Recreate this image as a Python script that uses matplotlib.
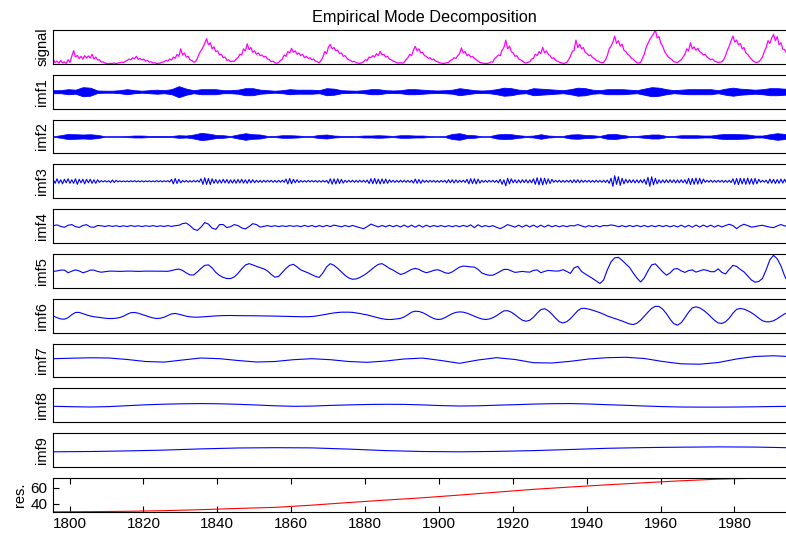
import numpy as np
import matplotlib
matplotlib.use('Agg')
import matplotlib.pyplot as plt

plt.rcParams['font.family'] = ['Liberation Sans', 'DejaVu Sans']

# time axis (years)
t_start = 1795.6
t_end = 1996.6

# signal, sampled every half year (sunspot-like numbers)
signal = [
    30, 8, 20, 5, 25, 6, 15, 3, 30, 10, 55, 97, 50, 62, 38, 55, 35, 60, 42, 58,
    42, 70, 35, 50, 28, 30, 12, 15, 5, 3, 0, 4, 2, 6, 1, 5, 8, 12, 10, 18,
    25, 35, 30, 45, 38, 55, 32, 40, 28, 35, 20, 25, 12, 15, 5, 8, 2, 4, 6, 12,
    15, 25, 20, 35, 28, 50, 40, 70, 55, 110, 65, 80, 50, 55, 30, 25, 12, 15, 40, 75,
    97, 120, 150, 185, 140, 155, 110, 125, 90, 95, 65, 70, 45, 50, 25, 30, 15, 20, 18, 35,
    45, 70, 65, 110, 95, 147, 105, 120, 85, 95, 70, 80, 60, 65, 50, 55, 35, 30, 15, 20,
    8, 4, 10, 25, 35, 65, 55, 90, 80, 114, 85, 95, 70, 80, 60, 70, 45, 55, 40, 45,
    30, 35, 20, 15, 8, 25, 50, 90, 75, 125, 142, 110, 120, 95, 100, 75, 80, 55, 60, 40,
    30, 25, 15, 18, 8, 5, 3, 8, 15, 30, 25, 50, 45, 60, 50, 75, 60, 92, 65, 70,
    50, 55, 35, 30, 20, 15, 8, 5, 8, 4, 12, 30, 45, 70, 60, 100, 129, 95, 110, 80,
    85, 60, 55, 40, 45, 30, 35, 20, 15, 10, 5, 3, 4, 8, 10, 25, 30, 45, 40, 60,
    75, 117, 80, 90, 60, 70, 50, 55, 40, 30, 20, 10, 6, 4, 2, 3, 6, 15, 12, 40,
    50, 65, 60, 100, 120, 174, 110, 130, 90, 80, 55, 60, 35, 30, 20, 10, 5, 12, 15, 35,
    40, 70, 60, 90, 75, 122, 80, 95, 70, 60, 40, 45, 25, 20, 12, 8, 3, 5, 10, 30,
    55, 90, 100, 174, 120, 145, 110, 120, 85, 75, 60, 65, 45, 40, 25, 20, 12, 8, 10, 30,
    60, 110, 130, 160, 204, 150, 170, 130, 145, 100, 90, 70, 60, 40, 35, 20, 8, 5, 10, 40,
    70, 120, 150, 180, 200, 220, 249, 190, 200, 150, 130, 90, 70, 50, 40, 30, 15, 12, 10, 20,
    30, 50, 70, 110, 95, 155, 110, 125, 100, 115, 90, 80, 65, 70, 50, 40, 30, 35, 20, 15,
    10, 12, 15, 30, 60, 100, 130, 170, 204, 160, 175, 140, 150, 110, 120, 80, 70, 50, 35, 20,
    12, 10, 15, 30, 50, 90, 120, 170, 150, 190, 217, 170, 200, 140, 155, 110, 105, 80, 60, 40,
    25, 15, 10,
]

# imf1 and imf2: half-width of the dense oscillation band, every 2 years
imf1_env = [
    1.5, 1.5, 2.5, 2, 4.5, 4, 1.2, 1, 1, 1.5,
    2.5, 1.5, 1, 1.5, 2, 1.5, 2.5, 5.5, 3, 1.5,
    2.5, 2.5, 2.5, 1.5, 1.5, 2, 3.5, 3.5, 2, 1.5,
    1, 1.5, 2.5, 2, 2, 2, 1.5, 3.5, 3, 1.5,
    1.2, 1, 1.5, 2.5, 2.5, 1.5, 1.2, 1.5, 2.5, 2.5,
    2, 1.5, 1.2, 1.5, 2, 3.5, 2.5, 1.5, 1.2, 1.5,
    2.5, 4, 3.5, 2, 1.5, 3.5, 3, 2.5, 2, 1.5,
    2.5, 4, 3.5, 2, 1.5, 2.5, 2.5, 2.5, 2, 1.5,
    3, 4.5, 4, 2.5, 1.5, 2, 2.5, 2.5, 2.5, 2.5,
    1.5, 3, 4, 3, 2.5, 2, 2.5, 3.5, 3.5, 3, 3,
]

imf2_env = [
    0.3, 1.3, 2.6, 2.3, 2, 2.3, 1.6, 0.3, 0.3, 0.3,
    0.6, 1, 1, 0.6, 0.6, 0.6, 0.6, 1.3, 1, 2,
    3.6, 2.9, 1.6, 1.3, 0.5, 2, 3.3, 2.3, 2, 0.6,
    0.6, 1.3, 1.3, 1, 0.5, 0.5, 1.6, 2, 1, 0.6,
    0.6, 0.5, 1, 1, 1.3, 1, 0.6, 1.3, 1.3, 1,
    1, 0.5, 0.3, 0.5, 2.6, 3.3, 1.6, 1.3, 0.3, 0.3,
    2, 2.6, 2.3, 1.3, 0.6, 1, 2.3, 1, 0.6, 0.6,
    2, 2.3, 1.6, 1.3, 0.6, 2.3, 2.6, 1.6, 0.6, 0.6,
    1.3, 2, 2, 0.6, 0.6, 1.3, 1.3, 1.3, 1, 1,
    2, 2.6, 2.6, 2.3, 2, 1, 1, 2.3, 3.3, 2.6, 1.6,
]

# imf3, every half year
imf3 = [
    1.5, -2, 2.5, -2, 1.5, -2.5, 2, -1.5, 2.5, -2, 1.5, -2, 2.5, -3, 2, -1.5, 2, -2.5, 2, -1.5,
    2, -2, 1.5, -2, 1.5, -1, 0.7, -0.6, 0.7, -0.7, 0.6, -1.2, 1.3, -1.2, 1, -0.6, 0.5, -0.6, 0.5, -0.6,
    0.5, -0.6, 0.6, -0.5, 0.7, -0.6, 0.5, -0.6, 0.6, -0.7, 0.5, -0.5, 0.6, -0.6, 0.5, -0.6, 0.7, -0.5, 0.6, -0.6,
    0.6, -0.5, 0.7, -0.8, 2, -2.5, 2.8, -2.2, 2, -1.5, 0.8, -0.7, 0.8, -0.9, 0.7, -0.8, 0.8, -0.7, 0.9, -0.8,
    2.5, -3, 3.5, -3, 2.8, -3.2, 2.5, -2, 1.8, -2, 1.5, -1.8, 2, -1.6, 1.8, -2, 1.5, -1.8, 1.6, -1.9,
    1.8, -1.6, 2, -1.8, 1.5, -2, 1.8, -1.5, 1.6, -1.4, 1, -1, 0.9, -1.1, 1, -0.9, 1, -0.8, 1, -1,
    0.9, -1, 1, -0.9, 1.1, -1, 2.2, -2.6, 2.8, -2.4, 2, -1.5, 1.6, -1.2, 0.8, -0.8, 0.7, -0.8, 0.9, -0.7,
    0.8, -0.7, 0.8, -0.9, 0.7, -0.8, 0.8, -0.7, 0.9, -2, 2.5, -2.8, 2.4, -2.6, 2.5, -2.2, 2, -1.8, 1, -1,
    1, -0.9, 1.1, -1, 0.9, -1, 1.1, -0.9, 1, -1, 1.2, -2.2, 2.6, -2.4, 2.8, -2.5, 2.2, -2.6, 2.4, -2.2,
    2.2, -2, 1.5, -1, 1, -1.1, 0.9, -1, 1.1, -0.9, 1, -1, 0.9, -1.1, 1, -1.8, 2.2, -2, 1.8, -2,
    1.2, -1, 0.9, -1, 1, -0.8, 0.9, -1, 0.8, -1, 0.9, -0.8, 1, -1.5, 1.6, -1.4, 1.5, -1.6, 1.4, -1.2,
    1, -0.9, 1.1, -1.2, 2, -2.5, 2.6, -2.3, 2.5, -2.6, 2.2, -1.8, 1, -1, 0.9, -1, 1, -0.8, 1, -1,
    1, -1.5, 2, -3, 1.5, -4.5, 3, -2.5, 2.5, -1.5, 1.5, -1.6, 1.4, -1.5, 1.6, -1.3, 1.5, -1.6, 1.4, -1.5,
    2.5, -3, 3.5, -3.5, 3.2, -3.6, 3, -2.8, 2.5, -2.2, 2, -1, 1, -0.9, 1.1, -1, 0.9, -1, 1, -0.9,
    1.2, -1.4, 1.5, -1.3, 1.5, -1.4, 1.2, -1, 1, -0.9, 1, -1, 0.9, -1, 1.1, -1, 0.9, -1, 1, -1.2,
    1.2, -2, 3, -5, 5.5, -3, 4.5, -4, 3, -2.5, 2, -1.5, 1.6, -1.4, 1.5, -1.6, 1.4, -1.5, 1.5, -1.5,
    2, -3, 4, -5, 4.5, -3.5, 3, -2.5, 1.5, -1.6, 1.4, -1.5, 1.6, -1.4, 1.5, -1.3, 1.5, -1.6, 1.4, -1.5,
    1.5, -1.4, 1.6, -2.5, 3, -3.2, 2.8, -3, 3.2, -2.8, 3, -2.5, 2.2, -1, 1, -0.9, 1.1, -1, 0.9, -1,
    1, -0.9, 1, -1.1, 0.9, -1, 1, -1.2, 2.5, -3, 2.8, -3.2, 3, -2.6, 2.8, -3, 3.2, -2.8, 2.6, -3,
    2.8, -2.5, 2, -1, 1, -0.9, 1.1, -2, 2.2, -1.8, 2, -2.2, 1.8, -2, 2.2, -1.8, 2, -1.5, 1.6, -1.4,
    1.5, -1.4, 1.2,
]

# imf4, every year
imf4 = [
    0.5, 1.2, -0.3, -1.2, 0.8, 1.5, -0.5, -1.3, 0.6, 1.4,
    -0.8, -1.2, 0.6, 0.3, -0.4, 0.5, -0.3, 0.4, -0.5, 0.3,
    -0.4, 0.5, -0.3, 0.4, -0.5, 0.4, -0.3, 0.5, -0.4, 0.3,
    -0.4, 0.5, -0.3, 0.4, 0.8, 2.5, 3, 0.5, -3, -4.3,
    -1, 3.5, 2, -2, -3.3, 1.5, 1.5, -1.5, -0.5, 1.5,
    0.5, -1.8, -2.8, -0.5, 2.4, 1.5, -1, -0.3, 0.5, -0.4,
    0.4, -0.5, 0.3, -0.4, 0.5, -0.3, 0.4, -0.6, 0.7, -0.5,
    0.6, -0.7, 0.5, -0.6, 0.7, -0.5, 1, 0.2, -0.7, 0.6,
    -0.6, 0.7, -0.5, -1.5, -2.6, -0.5, 2, 0.5, -0.8, 0.6,
    -0.7, 0.8, -0.6, 0.7, -0.9, 1, -1, 0.9, -1.1, 1,
    -1, 0.9, -0.7, 0.6, -0.5, 0.6, -0.7, 0.5, -0.6, 0.5,
    -0.6, 0.7, -0.5, 1.2, -1.5, 1.3, -0.6, 0.5, -0.6, 0.5,
    -1.2, -2.5, -0.8, 1.5, 0.2, -1, 0.9, -1, 1, -0.9,
    1, -1.1, 0.9, -1, 1, -0.7, 0.6, -0.7, 0.5, -0.6,
    0.5, 0.2, 1.5, 0.3, -1, 0.5, -0.6, 0.5, -0.7, 0.6,
    0.3, 1.2, 0.5, -0.6, 0.5, -0.7, 0.6, -0.5, 0.7, -0.6,
    0.6, -0.7, 0.5, -0.6, 0.7, -0.5, 0.6, -0.7, 0.5, -0.8,
    0.9, -1, 0.8, -1.1, 1, -0.9, 1, -0.8, 0.9, -1,
    0.8, -0.9, 0.6, 1.8, 0.5, -2.5, 0.2, 1.8, 0.5, -1,
    -0.5, 0.3, 0.8, -0.2, -1, -1.5, 0.2, 1.5, 0.3, -1,
    0.2, 0.8,
]

# imf5, every year
imf5 = [
    -0.5, 0, 0.8, 0.8, -1.8, -0.3, 1, 0, -1.8, -0.8,
    0.8, 0.8, -0.6, -1.3, -0.8, -0.3, -0.2, -0.4, -0.5, -0.3,
    -0.2, -0.2, -0.4, -0.5, -0.3, -0.2, -0.2, -0.2, -0.2, -0.3,
    -0.4, -0.4, 0.3, 1.3, 1.8, 0.5, -2, -4, -4, -1,
    2.5, 5.5, 6, 3, -1.5, -4.5, -6.5, -7.6, -7.6, -6,
    -2.5, 2, 5.8, 7.2, 6, 4.5, 3.2, 2, 0, -3.5,
    -6.2, -5.5, -1.5, 2.5, 5.5, 6.5, 4, 1, -0.5, -2,
    -3.8, -5.5, -6.5, -2, 4, 7.2, 5.5, 2.5, -1, -4.5,
    -7, -8.3, -8, -6.5, -4.5, -2, 1, 4, 6.5, 7.2,
    5, 2.5, 0.8, -1.5, -3.5, -2.5, -0.5, 1.5, 2.5, 1.5,
    -0.5, -1.8, -0.8, 0.5, 1.2, 0, -1.8, -2.5, -1, 1.5,
    3.8, 4.8, 4.5, 4, 3.8, 1.5, -2, -3.5, -4.3, -4.3,
    -2.5, -0.5, 1.5, 1.5, 0, -1.5, -1, -0.5, -1, -1.2,
    0.5, 1, -1.8, -0.5, 0.5, 0.2, -0.2, 0, 1.2, -0.5,
    -2.5, 3, 4.5, -0.5, -3, -5.2, -7.5, -10, -12.5, -9,
    1, 9, 13, 13.5, 10.5, 7, 3.5, -2, -7, -11,
    -7, 0, 6, 7, 3, -1, -4.3, -2, 1.8, 2.3,
    0, -1.5, 0.3, 1, -1.2, 0, 1.2, 0.5, -0.8, -0.8,
    2, -1.5, -3, 1.5, 5.5, 4.5, 1.5, -1, -5, -9,
    -11.2, -10.5, -7.5, 1, 11, 15.5, 12, 5, -5, -12,
    -14, -14,
]

# imf6, every year
imf6 = [
    -0.3, -2, -3.2, -3.5, -2, 1, 3.2, 3.3, 2, 0.8,
    -0.3, -1, -1.5, -2, -2.5, -2.8, -2.8, -2.5, -1.8, -0.5,
    1.5, 3, 3.2, 2.5, 1.2, 0, -1.2, -2.2, -2.8, -2.5,
    -1.5, 0.2, 1.8, 2.2, 1.5, 0.5, -0.5, -1.1, -1.4, -1.5,
    -1.3, -1, -0.7, -0.4, -0.2, 0, 0.1, 0.2, 0.2, 0.1,
    0.1, 0, 0, 0, 0, -0.1, -0.2, -0.2, -0.3, -0.3,
    -0.4, -0.5, -0.5, -0.6, -0.7, -0.8, -0.9, -1, -1, -1,
    -0.8, -0.4, 0.2, 0.8, 1.5, 2.2, 2.8, 3.2, 3.5, 3.5,
    3.5, 3.3, 2.8, 2.2, 1.4, 0.8, -0.2, -1.2, -2.2, -3,
    -3.6, -3.8, -3.6, -3.2, -2.7, -1.2, 1, 3.5, 4.5, 4.2,
    3, 1.2, -1, -2.8, -3.8, -3.5, -2, 0, 2, 3.3,
    3.8, 3.5, 2.5, 1, -0.5, -2, -3.2, -3.8, -3.3, -2,
    0, 2.5, 4.8, 5, 3.5, 1, -2, -4.5, -5.5, -4.5,
    -1.5, 2.5, 6, 7, 5, 1.5, -2.5, -6, -7.2, -6,
    -3, 1, 5, 7.3, 7.3, 6.5, 5.5, 4.3, 3, 1.5,
    -0.3, -1.5, -2.8, -4, -5.3, -6.8, -8.2, -8.8, -7.5, -4.5,
    -0.5, 3.5, 7.3, 9.3, 9.2, 6.5, 2, -3.5, -8, -9.4,
    -7, -2, 3.5, 7.8, 8.8, 7.8, 5.5, 2.5, -1, -4.5,
    -7.2, -7.7, -6, -2.5, 2.5, 6.3, 7.2, 6.5, 5, 3,
    0.5, -2.5, -5, -6.1, -6, -5, -3, -0.5, 1.8, 3.5,
    4.5, 5,
]

# imf7 and imf8, every 5 years
imf7 = [1.8, 2.3, 2.7, 2.5, 1, -1, -1.6, 0.5, 2.5, 1.8,
        0, -1.5, -1, 0.8, 1.8, 0.8, -1, -1.8, -0.5, 1.5,
        2.4, 0, -2.8, 0.5, 2.8, 1, -2.2, -2.5, -0.8, 1.5,
        2.8, 3.2, 2, -1, -3.3, -3.7, -2, 1.5, 4, 4.7, 3.8]
imf8 = [-1, -1.4, -1.7, -1.3, -0.4, 0.5, 1.1, 1.5, 1.7, 1.5,
        1, 0.3, -0.5, -1, -0.8, -0.1, 0.4, 0.8, 1, 0.9,
        0.4, -0.3, -0.7, -0.5, 0.1, 0.6, 1.2, 1.6, 1.7, 1.3,
        0.6, 0, -0.7, -1.3, -1.7, -1.8, -1.8, -1.7, -1.5, -1.2, -1]

# imf9 and residue, every 10 years
imf9 = [-1.7, -1.4, -0.8, 0, 1.2, 2.1, 2.4, 2.2, 1, -0.5,
        -1.4, -1.7, -1.3, -0.5, 0.6, 1.8, 2.5, 2.9, 3.2, 3, 2.3]
res = [30.4, 30.6, 31, 31.8, 33, 34.5, 35.8, 38.5, 41.7, 44.7,
       47.5, 50.8, 54.3, 57.8, 60.6, 63.3, 65.8, 68.2, 70.2, 71.3, 71.6]

imf_lim = 16.8
names = ['signal', 'imf1', 'imf2', 'imf3', 'imf4', 'imf5',
         'imf6', 'imf7', 'imf8', 'imf9', 'res.']


def years(vals, step):
    return t_start + step * np.arange(len(vals))


W, H = 786, 533
fig = plt.figure(figsize=(W / 100, H / 100), dpi=100)
left_px, right_px = 53.3, 795.7
axes = []
for i in range(11):
    top = 30 + 44.8 * i
    ax = fig.add_axes([left_px / W, 1 - (top + 33.8) / H,
                       (right_px - left_px) / W, 33.8 / H])
    ax.set_xlim(t_start, t_end)
    for s in ax.spines.values():
        s.set_linewidth(0.8)
    ax.set_ylabel(names[i], fontsize=10.5, labelpad=3)
    axes.append(ax)

axes[0].plot(years(signal, 0.5), signal, color='#ff00ff', lw=0.9)
axes[0].set_ylim(min(signal), max(signal))
axes[0].set_title('Empirical Mode Decomposition', fontsize=11.7, pad=6)

for ax, env, lw in zip(axes[1:3], [imf1_env, imf2_env], [0.6, 0.5]):
    env = np.array(env)
    x = years(env, 2)
    ax.fill_between(x, -env, env, color='#0000ff', lw=lw)

blue_series = [(imf3, 0.5), (imf4, 1), (imf5, 1), (imf6, 1),
               (imf7, 5), (imf8, 5), (imf9, 10)]
for ax, (vals, step) in zip(axes[3:10], blue_series):
    ax.plot(years(vals, step), vals, color='#0000ff', lw=0.8)

for ax in axes[1:10]:
    ax.set_ylim(-imf_lim, imf_lim)
for ax in axes[:10]:
    ax.set_xticks([])
    ax.set_yticks([])

ax = axes[10]
ax.plot(years(res, 10), res, color='#ff0000', lw=0.8)
ax.set_ylim(min(res), max(res))
ax.set_yticks([40, 60])
ax.set_xticks(range(1800, 1981, 20))
ax.tick_params(direction='in', length=4.3, width=0.8, labelsize=11,
               top=True, right=True, pad=4)

fig.savefig('out.png', dpi=100)
